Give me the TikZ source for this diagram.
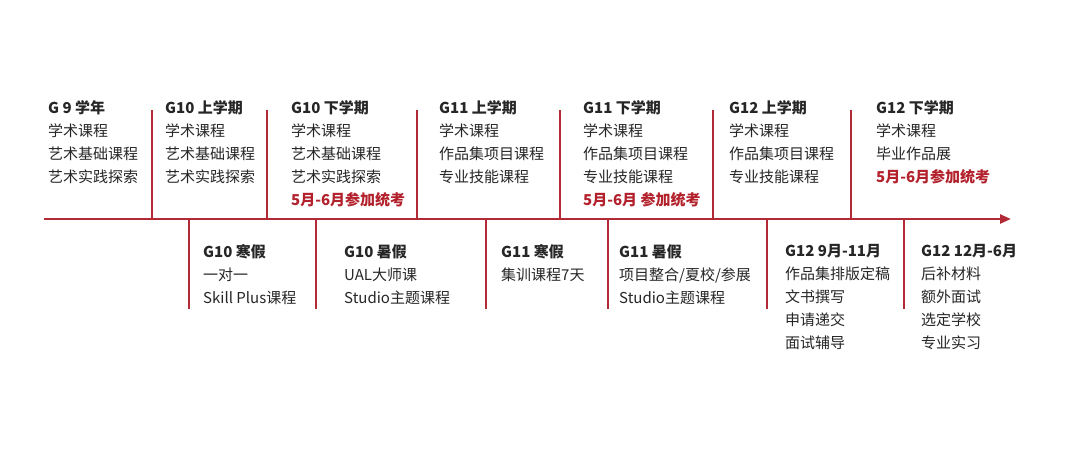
\documentclass[tikz,border=0pt]{standalone}
\usepackage{fontspec}
\setmainfont{Noto Sans CJK SC}
\usetikzlibrary{arrows.meta}
\definecolor{axisred}{HTML}{B22A35}
\definecolor{txtred}{HTML}{B3222C}
\definecolor{txt}{HTML}{262626}
\tikzset{
  col/.style={anchor=north west, inner sep=0pt, align=left, text=txt,
    font=\fontsize{15}{23}\selectfont},
  axisline/.style={draw=axisred, line width=2.4pt, -{Triangle[length=11pt,width=9pt]}},
  divider/.style={draw=axisred, line width=1.4pt},
}
\newcommand{\ttl}[1]{\textbf{#1}}
\newcommand{\rtxt}[1]{\textcolor{txtred}{\textbf{#1}}}
\begin{document}
\begin{tikzpicture}[x=1pt,y=-1pt]
\useasboundingbox[fill=white] (0,0) rectangle (1080,453);
% axis
\coordinate (axs) at (44,219);
\coordinate (axe) at (1011,219);
\draw[axisline] (axs) -- (axe);
% upper dividers
\foreach \x [count=\i] in {152,267,417,560,713,851}{
  \coordinate (ut\i) at (\x,110);
  \coordinate (ub\i) at (\x,219);
  \draw[divider] (ut\i) -- (ub\i);
}
% lower dividers
\foreach \x [count=\i] in {189,316,486,608,767,904}{
  \coordinate (lt\i) at (\x,219);
  \coordinate (lb\i) at (\x,309);
  \draw[divider] (lt\i) -- (lb\i);
}
% upper columns
\node[col] (u1) at (48,100.5) {\ttl{G 9 学年}\\学术课程\\艺术基础课程\\艺术实践探索};
\node[col] (u2) at (165,100.5) {\ttl{G10 上学期}\\学术课程\\艺术基础课程\\艺术实践探索};
\node[col] (u3) at (291,100.5) {\ttl{G10 下学期}\\学术课程\\艺术基础课程\\艺术实践探索\\\rtxt{5月-6月参加统考}};
\node[col] (u4) at (439,100.5) {\ttl{G11 上学期}\\学术课程\\作品集项目课程\\专业技能课程};
\node[col] (u5) at (583,100.5) {\ttl{G11 下学期}\\学术课程\\作品集项目课程\\专业技能课程\\\rtxt{5月-6月 参加统考}};
\node[col] (u6) at (729,100.5) {\ttl{G12 上学期}\\学术课程\\作品集项目课程\\专业技能课程};
\node[col] (u7) at (876,100.5) {\ttl{G12 下学期}\\学术课程\\毕业作品展\\\rtxt{5月-6月参加统考}};
% lower columns
\node[col] (l1) at (203,244.5) {\ttl{G10 寒假}\\一对一\\Skill Plus课程};
\node[col] (l2) at (344,244.5) {\ttl{G10 暑假}\\UAL大师课\\Studio主题课程};
\node[col] (l3) at (501,244.5) {\ttl{G11 寒假}\\集训课程7天};
\node[col] (l4) at (619,244.5) {\ttl{G11 暑假}\\项目整合/夏校/参展\\Studio主题课程};
\node[col] (l5) at (785,244.5) {\ttl{G12 9月-11月}\\作品集排版定稿\\文书撰写\\申请递交\\面试辅导};
\node[col] (l6) at (921,244.5) {\ttl{G12 12月-6月}\\后补材料\\额外面试\\选定学校\\专业实习};
\end{tikzpicture}
\end{document}
